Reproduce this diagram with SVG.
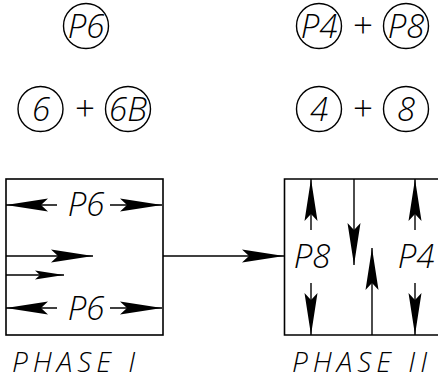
<svg xmlns="http://www.w3.org/2000/svg" width="438" height="381" viewBox="0 0 438 381">
<style>
  .t { font-family: "Open Sans", "DejaVu Sans", sans-serif; font-style: italic; font-weight: 300; fill: #000; }
  .lbl { font-size: 33px; text-anchor: middle; }
  .plus { font-family: "Open Sans", "DejaVu Sans", sans-serif; font-weight: 300; font-size: 35px; text-anchor: middle; fill: #000; }
  .ph { font-size: 28px; letter-spacing: 5px; }
  .c { fill: none; stroke: #000; stroke-width: 1.4; }
  .box { fill: none; stroke: #000; stroke-width: 1.6; }
  .ln { stroke: #000; stroke-width: 1.4; fill: none; }
</style>
<defs>
  <marker id="ah" markerUnits="userSpaceOnUse" viewBox="-42 -7 44 14" refX="0" refY="0" markerWidth="44" markerHeight="14" orient="auto" overflow="visible">
    <path d="M0,0 L-42,-6.5 L-35,0 L-42,6.5 Z" fill="#000"/>
  </marker>
  <marker id="ahs" markerUnits="userSpaceOnUse" viewBox="-30 -5 32 10" refX="0" refY="0" markerWidth="32" markerHeight="10" orient="auto" overflow="visible">
    <path d="M0,0 L-29,-4.5 L-24,0 L-29,4.5 Z" fill="#000"/>
  </marker>
</defs>

<g id="node-p6">
  <circle class="c" cx="86" cy="26" r="22.5"/>
  <text class="t lbl" x="86" y="38">P6</text>
</g>
<g id="node-6">
  <circle class="c" cx="40.5" cy="109" r="22.5"/>
  <text class="t lbl" x="41" y="121">6</text>
</g>
<text class="plus" x="85" y="121">+</text>
<g id="node-6b">
  <circle class="c" cx="128" cy="109" r="22.5"/>
  <text class="t lbl" x="128" y="121">6B</text>
</g>

<g id="node-p4">
  <circle class="c" cx="319" cy="26" r="22.5"/>
  <text class="t lbl" x="319" y="38">P4</text>
</g>
<text class="plus" x="363" y="38">+</text>
<g id="node-p8">
  <circle class="c" cx="406" cy="26" r="22.5"/>
  <text class="t lbl" x="406" y="38">P8</text>
</g>
<g id="node-4">
  <circle class="c" cx="319" cy="109" r="22.5"/>
  <text class="t lbl" x="319" y="121">4</text>
</g>
<text class="plus" x="363" y="121">+</text>
<g id="node-8">
  <circle class="c" cx="406" cy="109" r="22.5"/>
  <text class="t lbl" x="406" y="121">8</text>
</g>

<g id="phase1">
  <rect class="box" x="6" y="179" width="157" height="156"/>
  <line class="ln" x1="57" y1="205" x2="6" y2="205" marker-end="url(#ah)"/>
  <line class="ln" x1="110" y1="205" x2="162" y2="205" marker-end="url(#ah)"/>
  <text class="t lbl" x="86" y="216">P6</text>
  <line class="ln" x1="6" y1="256" x2="93" y2="256" marker-end="url(#ah)"/>
  <line class="ln" x1="6" y1="275" x2="64" y2="275" marker-end="url(#ahs)"/>
  <line class="ln" x1="57" y1="308" x2="6" y2="308" marker-end="url(#ah)"/>
  <line class="ln" x1="110" y1="308" x2="162" y2="308" marker-end="url(#ah)"/>
  <text class="t lbl" x="86" y="320">P6</text>
  <text class="t ph" x="12" y="372">PHASE I</text>
</g>

<g id="phase2">
  <path class="box" d="M445,179 H284.5 V335 H445"/>
  <line class="ln" x1="311" y1="230" x2="311" y2="179" marker-end="url(#ah)"/>
  <line class="ln" x1="311" y1="283" x2="311" y2="335" marker-end="url(#ah)"/>
  <line class="ln" x1="354" y1="179" x2="354" y2="265" marker-end="url(#ah)"/>
  <line class="ln" x1="372" y1="335" x2="372" y2="248" marker-end="url(#ah)"/>
  <line class="ln" x1="415" y1="230" x2="415" y2="179" marker-end="url(#ah)"/>
  <line class="ln" x1="415" y1="283" x2="415" y2="335" marker-end="url(#ah)"/>
  <text class="t lbl" x="312" y="268">P8</text>
  <text class="t lbl" x="416" y="268">P4</text>
  <text class="t ph" x="292" y="372">PHASE II</text>
</g>

<g id="connectors">
  <line class="ln" x1="163" y1="256" x2="284" y2="256" marker-end="url(#ah)"/>
</g>
</svg>
